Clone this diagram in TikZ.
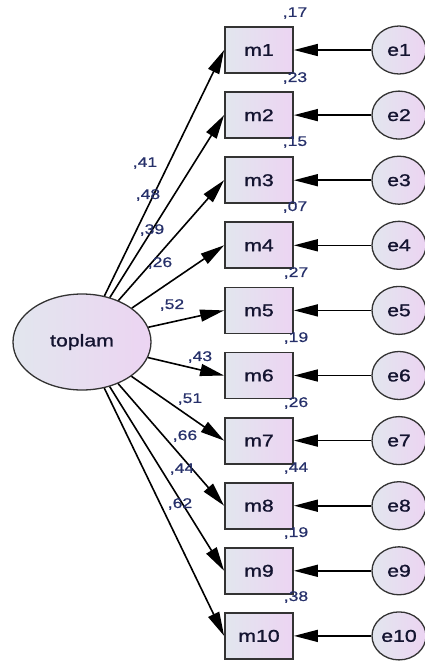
\documentclass[tikz,border=0pt]{standalone}
\usepackage{fontspec}
\newfontfamily\amos[FakeStretch=1.25,FakeBold=1.2]{Liberation Sans}
\newfontfamily\amoslab[FakeStretch=1.25,FakeBold=0.6]{Liberation Sans}
\usetikzlibrary{arrows.meta,shapes.geometric}
\definecolor{fillA}{HTML}{E2E6EE}
\definecolor{fillB}{HTML}{ECD4F2}
\definecolor{edgec}{HTML}{333333}
\definecolor{txtc}{HTML}{141430}
\definecolor{labc}{HTML}{26306A}
\tikzset{
  obs/.style={draw=edgec, line width=1.8pt, left color=fillA, right color=fillB,
    minimum width=68pt, minimum height=46pt, inner sep=0pt,
    font=\amos\fontsize{17}{20}\selectfont, text=txtc},
  lat/.style={ellipse, draw=edgec, line width=1.3pt, left color=fillA, right color=fillB,
    minimum width=138pt, minimum height=96pt, inner sep=0pt,
    font=\amos\fontsize{17}{20}\selectfont, text=txtc},
  err/.style={ellipse, draw=edgec, line width=1.3pt, left color=fillA, right color=fillB,
    minimum width=54pt, minimum height=48pt, inner sep=0pt,
    font=\amos\fontsize{17}{20}\selectfont, text=txtc},
  lab/.style={font=\amoslab\fontsize{14}{16}\selectfont, text=labc, inner sep=0pt},
  path/.style={line width=1.6pt, draw=black, -{Triangle[length=24pt,width=12pt]}}
}
\begin{document}
\begin{tikzpicture}[x=1pt,y=-1pt]
\useasboundingbox (0,0) rectangle (425,662);
\node[lat] (toplam) at (82,342) {toplam};
\foreach \i in {1,...,10}{
  \pgfmathsetmacro{\yy}{50+65.1*(\i-1)}
  \node[obs] (m\i) at (259,\yy) {m\i};
  \node[err] (e\i) at (399,\yy) {e\i};
  \draw[path] (e\i.west) -- (m\i.east);
  \draw[path] (toplam) -- (m\i.west);
}
% variance labels
\node[lab] (v1) at (295,13) {,17};
\node[lab] (v2) at (295,78) {,23};
\node[lab] (v3) at (295,142) {,15};
\node[lab] (v4) at (295,207) {,07};
\node[lab] (v5) at (296,273) {,27};
\node[lab] (v6) at (296,338) {,19};
\node[lab] (v7) at (296,403) {,26};
\node[lab] (v8) at (296,468) {,44};
\node[lab] (v9) at (296,533) {,19};
\node[lab] (v10) at (296,597) {,38};
% loading labels
\node[lab] (l1) at (145,163) {,41};
\node[lab] (l2) at (148,195) {,48};
\node[lab] (l3) at (152,230) {,39};
\node[lab] (l4) at (160,263) {,26};
\node[lab] (l5) at (172,305) {,52};
\node[lab] (l6) at (200,357) {,43};
\node[lab] (l7) at (190,399) {,51};
\node[lab] (l8) at (185,436) {,66};
\node[lab] (l9) at (182,469) {,44};
\node[lab] (l10) at (180,504) {,62};
\end{tikzpicture}
\end{document}
